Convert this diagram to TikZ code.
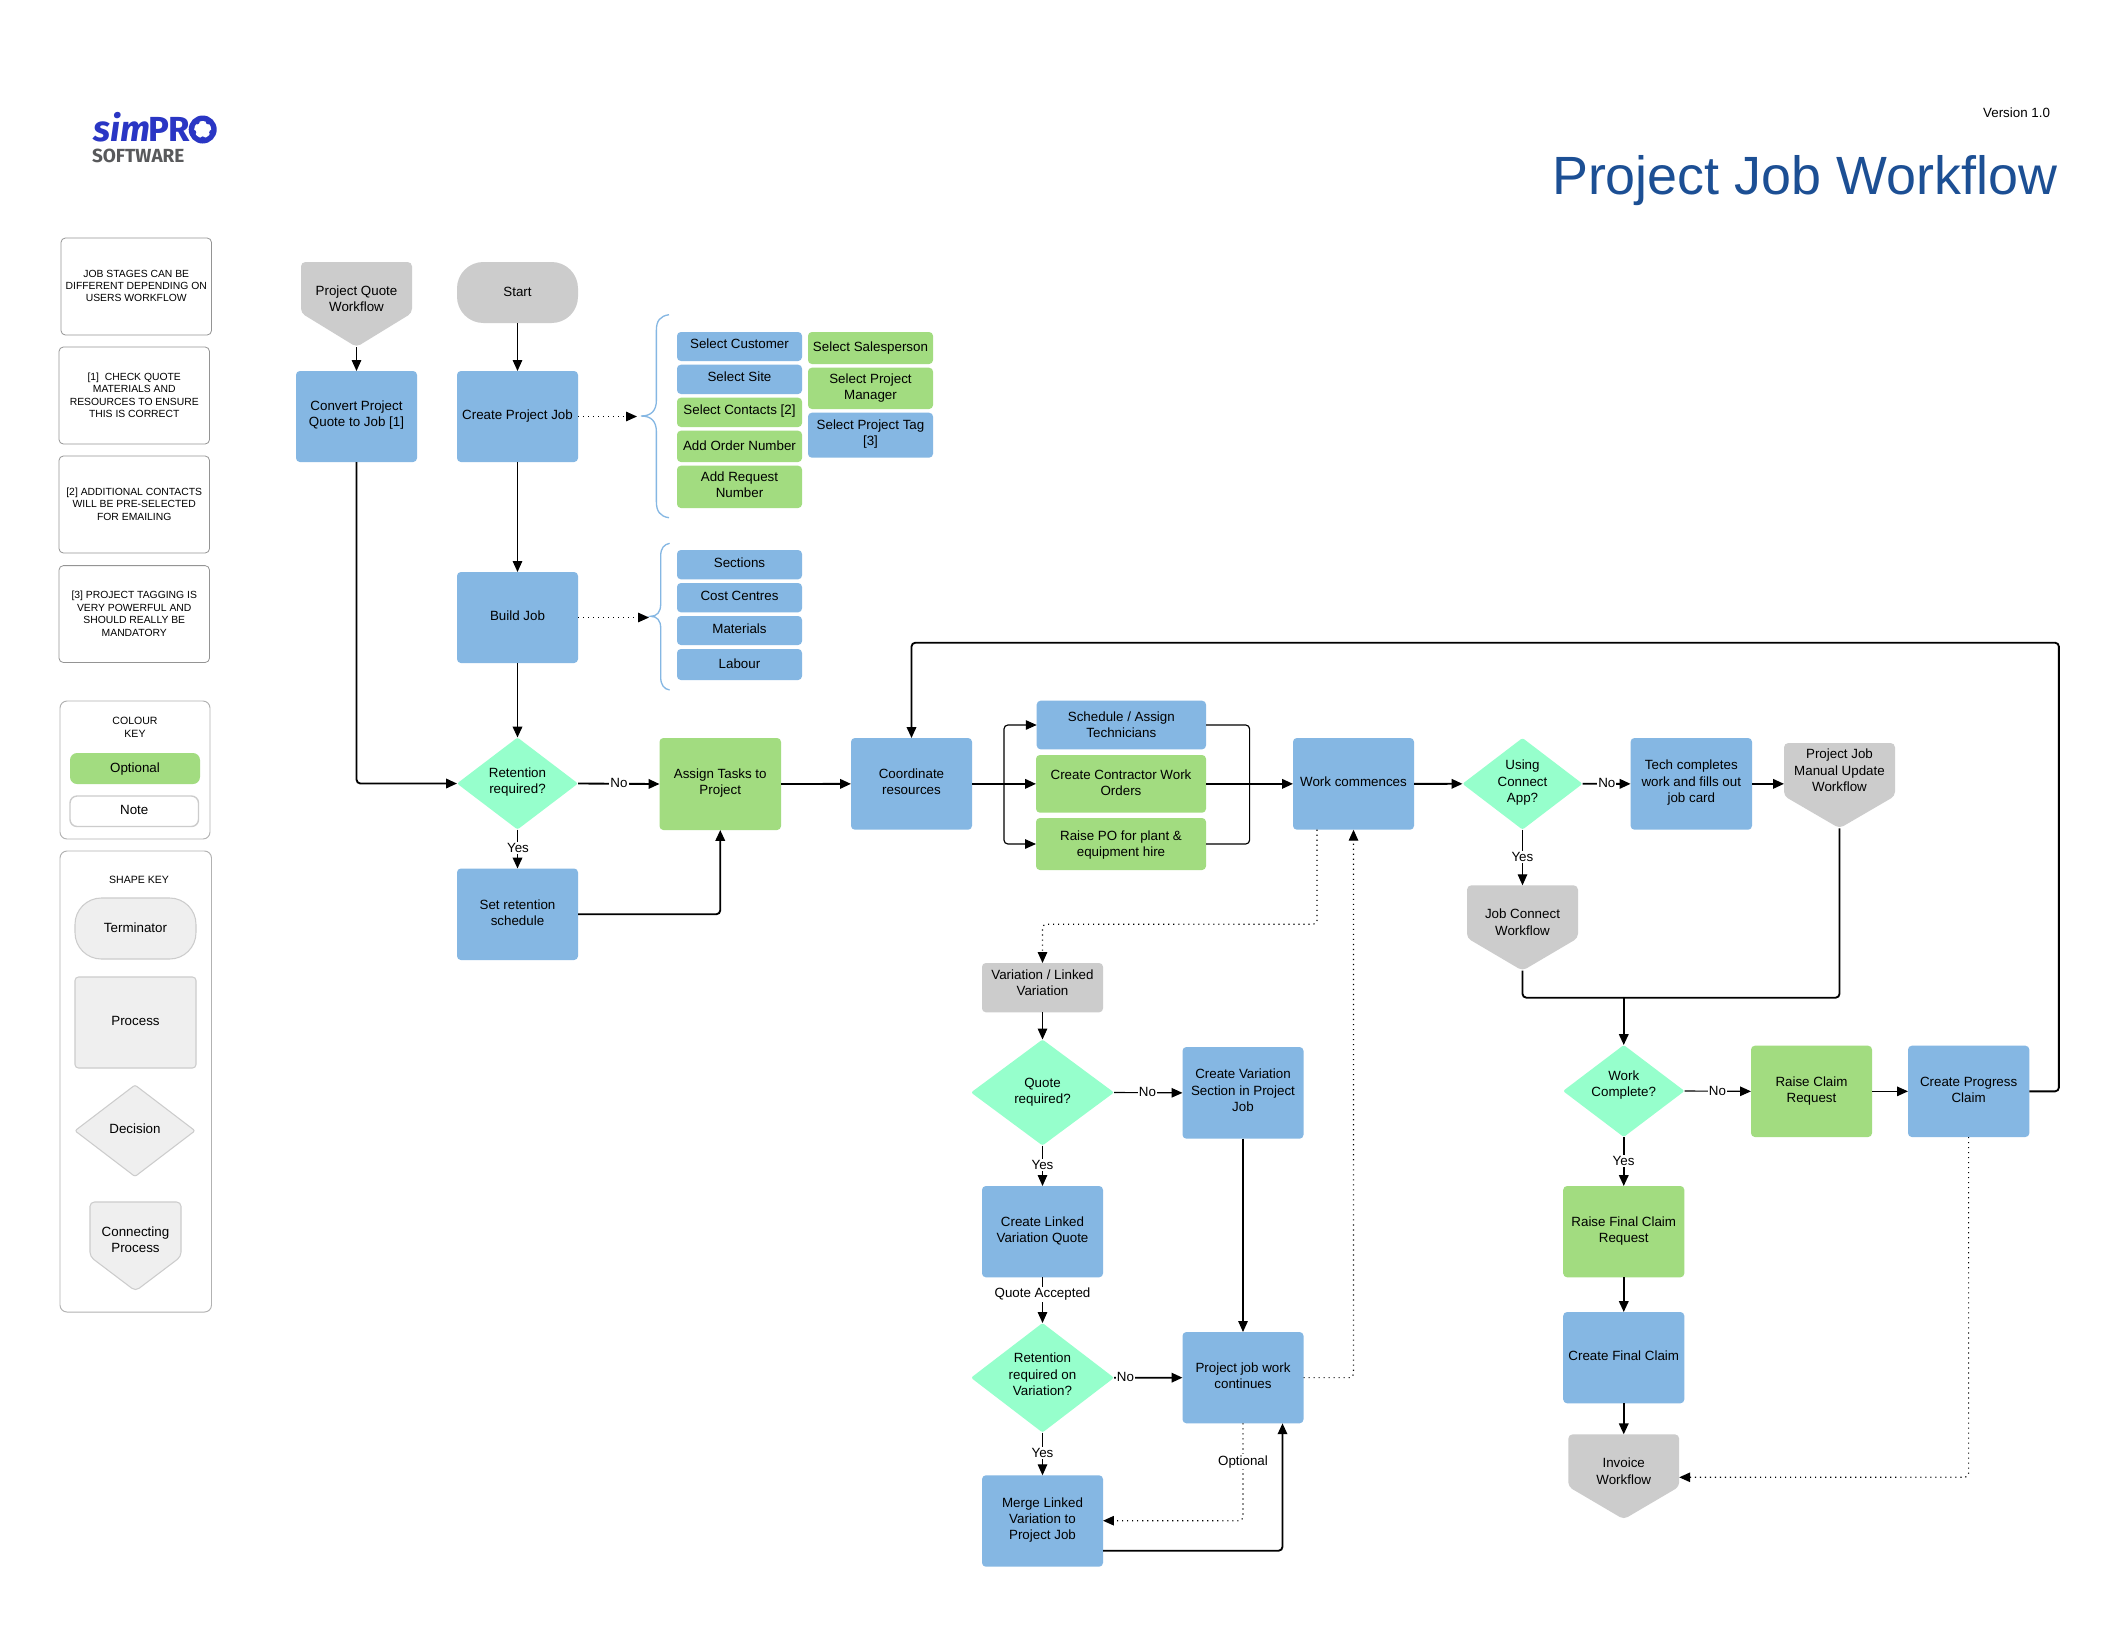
\documentclass[tikz,border=0pt]{standalone}
\usepackage{fontspec}
\setmainfont{Liberation Sans}
\newfontfamily\logofont{Fira Sans}
\usetikzlibrary{arrows.meta,shapes.geometric,calc}
\definecolor{cblue}{HTML}{85B7E3}
\definecolor{cgreen}{HTML}{A2DC80}
\definecolor{cmint}{HTML}{96FFCC}
\definecolor{cgrey}{HTML}{CCCCCC}
\definecolor{clight}{HTML}{EFEFEF}
\definecolor{ctitle}{HTML}{1C4F94}
\definecolor{clogo}{HTML}{2A36C4}
\definecolor{clogog}{HTML}{58595B}
\tikzset{
  base/.style={inner sep=0pt,outer sep=0pt,draw=none,font=\fontsize{7.6}{9.3}\selectfont,text=black},
  boxb/.style={base,rectangle,fill=cblue,rounded corners=2.2pt},
  boxg/.style={base,rectangle,fill=cgreen,rounded corners=2.2pt},
  boxy/.style={base,rectangle,fill=cgrey,rounded corners=2.2pt},
  term/.style={base,rectangle,fill=cgrey,rounded corners=15pt},
  dec/.style={base,diamond,fill=cmint,rounded corners=1.2pt},
  hold/.style={base,rectangle},
  notebox/.style={base,rectangle,fill=white,draw=black!42,line width=.45pt,rounded corners=2.5pt,font=\fontsize{5.9}{7.1}\selectfont},
  keybox/.style={base,rectangle,fill=white,draw=black!30,line width=.55pt,rounded corners=4pt},
  keyt/.style={base,rectangle,fill=clight,draw=cgrey,line width=.6pt,rounded corners=15pt},
  keyp/.style={base,rectangle,fill=clight,draw=cgrey,line width=.6pt,rounded corners=2pt},
  keyd/.style={base,diamond,fill=clight,draw=cgrey,line width=.6pt,rounded corners=1.2pt},
  keyopt/.style={base,rectangle,fill=cgreen,rounded corners=4pt},
  keynote/.style={base,rectangle,fill=white,draw=cgrey,line width=.8pt,rounded corners=4pt},
  shp/.style={fill=cgrey,rounded corners=2.5pt},
  shpk/.style={fill=clight,draw=cgrey,line width=.6pt,rounded corners=2.5pt},
  ln/.style={draw=black,line width=.65pt,rounded corners=2.2pt,-{Triangle[length=6.2pt,width=5.4pt]}},
  lnt/.style={ln,line width=1.05pt},
  plain/.style={draw=black,line width=.65pt,rounded corners=2.2pt},
  plaint/.style={plain,line width=1.05pt},
  dots/.style={ln,line width=.65pt,dash pattern=on .65pt off 2.2pt},
  lab/.style={base,fill=white,inner xsep=.6pt,inner ysep=.8pt,yshift=-.7pt},
  small/.style={base,font=\fontsize{6}{7.4}\selectfont,align=center},
  brc/.style={draw=cblue,line width=.75pt},
}
% style, name, x1, y1, x2, y2, text centre y, text
\newcommand{\bx}[8]{%
  \pgfmathsetlengthmacro{\rz}{((#4+#6)/2-(#7))*0.569pt-3.1pt}%
  \node[#1,minimum width={(#5-#3)*0.569pt},minimum height={(#6-#4)*0.569pt}] (#2)
    at ({(#3+#5)/2},{(#4+#6)/2})
    {\raisebox{\rz}[0pt][0pt]{\begin{tabular}{@{}c@{}}#8\end{tabular}}};}
% style, name, x1, y1, x2, y2, shoulder y, text centre y, text
\newcommand{\cn}[9]{%
  \path[#1] (#3,#4) -- (#5,#4) -- (#5,#7) -- ({(#3+#5)/2},#6) -- (#3,#7) -- cycle;
  \bx{hold}{#2}{#3}{#4}{#5}{#6}{#8}{#9}}
\begin{document}
\begin{tikzpicture}[x=0.569pt,y=-0.569pt]
\useasboundingbox[fill=white] (0,0) rectangle (2119,1642);

% logo
\node[base,anchor=base west,text=clogo,font=\logofont\fontsize{20.5}{20}\selectfont\bfseries\itshape] (logosim) at (93,141.5) {sim};
\node[base,anchor=base west,text=clogo,font=\logofont\fontsize{19.8}{20}\selectfont\bfseries] (logopr) at (148,141.5) {PR};
\fill[clogo] (202.7,129.5) circle[radius=14];
\fill[white] (202.7,129.5) circle[radius=8.5];
\foreach \a in {18,90,162,234,306} \fill[clogo] ($(202.7,129.5)+(\a:9.5)$) circle[radius=2.6];
\node[base,anchor=base west,text=clogog,font=\logofont\fontsize{10.8}{12}\selectfont\bfseries] (logosw) at (92,162) {SOFTWARE};

% title
\node[base,anchor=base east,text=ctitle,font=\fontsize{30.65}{34}\selectfont] (title) at (2057,194) {Project Job Workflow};
\node[base,anchor=east] (version) at (2050,112.5) {Version 1.0};

% notes
\bx{notebox}{n0}{61}{238}{211.5}{335}{284.2}{JOB STAGES CAN BE\\DIFFERENT DEPENDING ON\\USERS WORKFLOW}
\bx{notebox}{n1}{59}{347}{209.5}{444}{393.6}{[1]\ \ CHECK QUOTE\\MATERIALS AND\\RESOURCES TO ENSURE\\THIS IS CORRECT}
\bx{notebox}{n2}{59}{456}{209.5}{553}{502.6}{[2] ADDITIONAL CONTACTS\\WILL BE PRE-SELECTED\\FOR EMAILING}
\bx{notebox}{n3}{59}{565.6}{209.5}{662.5}{612}{[3] PROJECT TAGGING IS\\VERY POWERFUL AND\\SHOULD REALLY BE\\MANDATORY}

% colour key
\bx{keybox}{ckey}{60}{701}{210}{839}{770}{}
\node[small] (ckt) at (135,727.5) {COLOUR\\KEY};
\bx{keyopt}{kopt}{70}{753}{200}{784}{767.5}{Optional}
\bx{keynote}{knote}{70}{796}{198.5}{826.5}{809.6}{Note}

% shape key
\bx{keybox}{skey}{60}{851}{211.5}{1312}{1080}{}
\node[small] (skt) at (139,880) {SHAPE KEY};
\bx{keyt}{kterm}{75}{898}{196}{959}{927.5}{Terminator}
\bx{keyp}{kproc}{75}{977}{196}{1068}{1020}{Process}
\bx{keyd}{kdec}{75}{1085}{195}{1176.5}{1128.6}{Decision}
\cn{shpk}{kconn}{90}{1202}{181}{1291}{1256.6}{1239}{Connecting\\Process}

% top-left flow
\cn{shp}{pq}{301}{262}{412}{347}{313}{298}{Project Quote\\Workflow}
\bx{term}{start}{457}{262}{578}{323}{291}{Start}
\bx{boxb}{conv}{296}{371}{417}{462}{413.5}{Convert Project\\Quote to Job [1]}
\bx{boxb}{cpj}{457}{371}{578}{462}{414}{Create Project Job}
\bx{boxb}{build}{457}{572}{578}{663}{615}{Build Job}
\bx{dec}{ret}{457}{737.5}{578}{829.5}{780.6}{Retention\\required?}
\bx{boxb}{setr}{457}{868.5}{578}{960}{912}{Set retention\\schedule}
\bx{boxg}{assign}{659.5}{738}{781}{830}{781}{Assign Tasks to\\Project}

% option boxes
\bx{boxb}{o1}{677}{332}{802}{361}{343.7}{Select Customer}
\bx{boxb}{o2}{677}{364.7}{802}{394}{376.7}{Select Site}
\bx{boxg}{o3}{677}{397.7}{802}{427}{409.7}{Select Contacts [2]}
\bx{boxg}{o4}{677}{430.7}{802}{462}{445}{Add Order Number}
\bx{boxg}{o5}{677}{465.7}{802}{508}{484}{Add Request\\Number}
\bx{boxg}{p1}{808}{332}{933}{364}{346}{Select Salesperson}
\bx{boxg}{p2}{808}{367.7}{933}{409}{386}{Select Project\\Manager}
\bx{boxb}{p3}{808}{412.7}{933}{457.7}{432}{Select Project Tag\\{[3]}}
\bx{boxb}{b1}{677}{550}{802}{579.3}{562}{Sections}
\bx{boxb}{b2}{677}{583}{802}{612.3}{595}{Cost Centres}
\bx{boxb}{b3}{677}{616}{802}{645}{628}{Materials}
\bx{boxb}{b4}{677}{649}{802}{680}{663}{Labour}

% braces
\draw[brc] (669,314.7) .. controls (660,316) and (656.4,321) .. (656.4,330) -- (656.4,400)
  .. controls (656.4,411) and (651,416) .. (641,416) .. controls (651,416) and (656.4,421) .. (656.4,432)
  -- (656.4,502) .. controls (656.4,511) and (660,516.5) .. (669,517.7);
\draw[brc] (669.6,543.3) .. controls (664,544.5) and (660.7,548) .. (660.7,556) -- (660.7,604)
  .. controls (660.7,612) and (657,616.3) .. (650.7,616.3) .. controls (657,616.3) and (660.7,620.5) .. (660.7,628)
  -- (660.7,677) .. controls (660.7,685) and (664,689) .. (669.6,690);

% middle row
\bx{boxb}{coord}{851}{738}{972}{829.7}{781}{Coordinate\\resources}
\bx{boxb}{sched}{1036.7}{700.7}{1206}{749.3}{724}{Schedule / Assign\\Technicians}
\bx{boxg}{contr}{1036}{755}{1206}{812.7}{782}{Create Contractor Work\\Orders}
\bx{boxg}{rpo}{1036}{818}{1206}{870}{843}{Raise PO for plant \&\\equipment hire}
\bx{boxb}{wc}{1293}{738}{1414}{829.7}{781.7}{Work commences}
\bx{dec}{using}{1462.5}{738}{1582.5}{829.6}{781}{Using\\Connect\\App?}
\bx{boxb}{tech}{1630.6}{738}{1752}{829.7}{781}{Tech completes\\work and fills out\\job card}
\cn{shp}{pjm}{1784}{743}{1895}{828.3}{796}{770}{Project Job\\Manual Update\\Workflow}
\cn{shp}{jc}{1467}{885.3}{1578}{970.7}{938}{921.7}{Job Connect\\Workflow}

% variation column
\bx{boxy}{var}{982}{963}{1103}{1012.3}{982}{Variation / Linked\\Variation}
\bx{dec}{qr}{971}{1039.5}{1114}{1145.5}{1090.5}{Quote\\required?}
\bx{boxb}{cvs}{1182.5}{1047}{1303.5}{1138.7}{1090}{Create Variation\\Section in Project\\Job}
\bx{boxb}{clv}{982}{1186}{1103}{1277.3}{1229}{Create Linked\\Variation Quote}
\bx{dec}{rv}{971}{1323}{1114}{1432.5}{1374}{Retention\\required on\\Variation?}
\bx{boxb}{pjc}{1182.5}{1332}{1303.5}{1423.3}{1375}{Project job work\\continues}
\bx{boxb}{mlv}{982}{1475.3}{1103}{1566.7}{1518.3}{Merge Linked\\Variation to\\Project Job}

% claim column
\bx{dec}{wk}{1563}{1045}{1684.5}{1137}{1083}{Work\\Complete?}
\bx{boxg}{rcr}{1751}{1045.7}{1872}{1137}{1089}{Raise Claim\\Request}
\bx{boxb}{cpc}{1908}{1045.7}{2029.3}{1137}{1089}{Create Progress\\Claim}
\bx{boxg}{rfc}{1563.2}{1186}{1684.3}{1277.3}{1229}{Raise Final Claim\\Request}
\bx{boxb}{cfc}{1563.2}{1312}{1684.3}{1403.3}{1355.3}{Create Final Claim}
\cn{shp}{inv}{1568.3}{1434.3}{1679.2}{1519.3}{1486.7}{1470.7}{Invoice\\Workflow}

% helper coordinates
\coordinate (tipa) at (637,416.5);
\coordinate (tipb) at (649,617.5);
\coordinate (bra) at (1004,783.85);
\coordinate (mrg) at (1249.6,783.85);
\coordinate (jn) at (1623.75,997.7);
\coordinate (topr) at (2058.9,642.7);
\coordinate (wcd) at (1317,829.7);
\coordinate (wcdb) at (1317,924.3);
\coordinate (wcu) at (1353.5,829.7);
\coordinate (pjs) at (1243,1520.7);
\coordinate (mle) at (1103,1550.7);
\coordinate (pjb) at (1282.5,1423.3);
\coordinate (mlr) at (1103,1520.7);
\coordinate (invp) at (1679.2,1477.3);
\coordinate (cpb) at (1968.6,1137);

% connectors
\draw[ln] (pq.south) -- (conv.north);
\draw[ln] (start.south) -- (cpj.north);
\draw[ln] (cpj.south) -- (build.north);
\draw[lnt] (build.south) -- (ret.north);
\draw[lnt] (conv.south) |- (ret.west);
\draw[lnt] (ret.east) -- (assign.west);
\draw[lnt] (ret.south) -- (setr.north);
\draw[lnt] (setr.east) -| (assign.south);
\draw[dots] (cpj.east) -- (tipa);
\draw[dots] (build.east) -- (tipb);
\draw[lnt] (assign.east) -- (coord.west);
\draw[lnt] (coord.east) -- (contr.west);
\draw[ln] (bra) |- (sched.west);
\draw[ln] (bra) |- (rpo.west);
\draw[lnt] (contr.east) -- (wc.west);
\draw[plain] (sched.east) -| (mrg);
\draw[plain] (rpo.east) -| (mrg);
\draw[lnt] (wc.east) -- (using.west);
\draw[lnt] (using.east) -- (tech.west);
\draw[lnt] (tech.east) -- (pjm.west |- tech.east);
\draw[ln] (using.south) -- (jc.north);
\draw[plaint] (jc.south) |- (jn);
\draw[plaint] (pjm.south) |- (jn);
\draw[lnt] (jn) -- (wk.north);
\draw[ln] (wk.east) -- (rcr.west);
\draw[ln] (rcr.east) -- (cpc.west);
\draw[lnt] (cpc.east) -| (topr) -| (coord.north);
\draw[lnt] (wk.south) -- (rfc.north);
\draw[lnt] (rfc.south) -- (cfc.north);
\draw[lnt] (cfc.south) -- (inv.north);
\draw[dots] (cpb) |- (invp);
\draw[dots] (wcd) -- (wcdb) -| (var.north);
\draw[ln] (var.south) -- (qr.north);
\draw[ln] (qr.east) -- (cvs.west);
\draw[ln] (qr.south) -- (clv.north);
\draw[ln] (clv.south) -- (rv.north);
\draw[ln] (cvs.south) -- (pjc.north);
\draw[lnt] (rv.east) -- (pjc.west);
\draw[ln] (rv.south) -- (mlv.north);
\draw[dots] (pjc.south) |- (mlr);
\draw[lnt] (mle) -| (pjb);
\draw[dots] (pjc.east) -| (wcu);

% connector labels
\node[lab] (l1) at (619,782) {No};
\node[lab] (l2) at (518,847) {Yes};
\node[lab] (l3) at (1606.8,781.7) {No};
\node[lab] (l4) at (1522.4,855.7) {Yes};
\node[lab] (l5) at (1717.5,1089.7) {No};
\node[lab] (l6) at (1623.6,1159.7) {Yes};
\node[lab] (l7) at (1147.4,1090.7) {No};
\node[lab] (l8) at (1042.5,1163.7) {Yes};
\node[lab] (l9) at (1042.5,1293) {Quote Accepted};
\node[lab] (l10) at (1125.4,1375.7) {No};
\node[lab] (l11) at (1042.5,1452) {Yes};
\node[lab] (l12) at (1243,1460.3) {Optional};
\end{tikzpicture}
\end{document}
